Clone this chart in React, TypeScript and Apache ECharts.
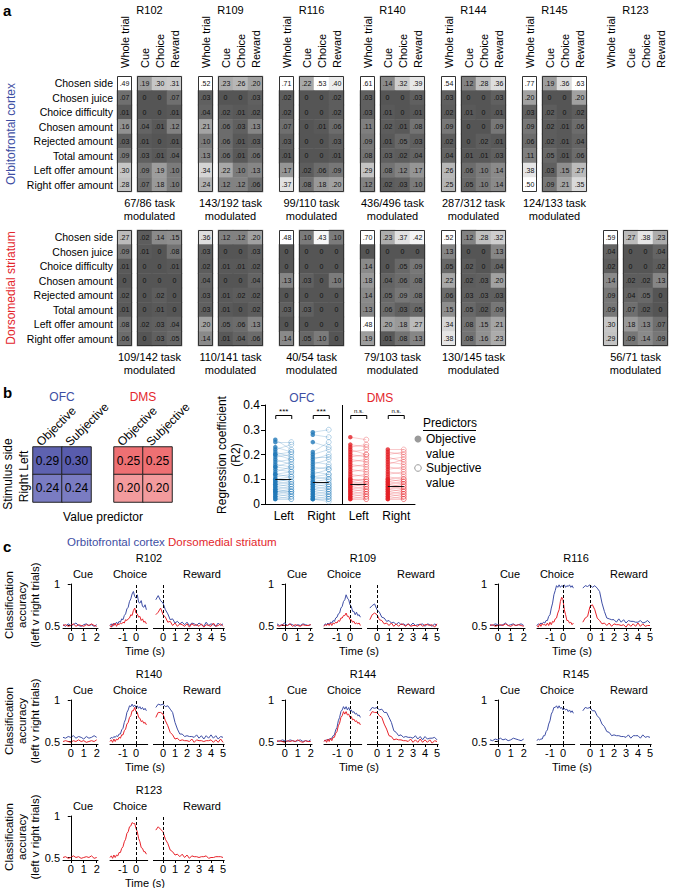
import React, { useEffect, useRef } from "react";
import * as echarts from "echarts";

const FONT = '"Liberation Sans", Arial, Helvetica, sans-serif';
const BLUE_TXT = "#3d4ea3";
const RED_TXT = "#e3262c";
const TRACE_BLUE = "#3f4fa6";
const TRACE_RED = "#e8232b";
const SC_BLUE = "#2178b8";
const SC_RED = "#e41f26";

// ---------------- Panel a data ----------------
const rowLabels = ["Chosen side", "Chosen juice", "Choice difficulty", "Chosen amount", "Rejected amount", "Total amount", "Left offer amount", "Right offer amount"];
const wholeTrialLabel = ["Whole trial"];
const epochLabels = ["Cue", "Choice", "Reward"];

// rows: [whole trial, cue, choice, reward]
const ofcR102 = [[0.49, 0.19, 0.30, 0.31], [0.07, 0, 0, 0.07], [0.01, 0, 0, 0.01], [0.16, 0.04, 0.01, 0.12], [0.03, 0.01, 0, 0.01], [0.09, 0.03, 0.01, 0.04], [0.30, 0.09, 0.19, 0.10], [0.28, 0.07, 0.18, 0.10]];
const ofcR109 = [[0.52, 0.23, 0.26, 0.20], [0.03, 0, 0, 0.03], [0.04, 0.02, 0.01, 0.02], [0.21, 0.06, 0.03, 0.13], [0.10, 0.06, 0.01, 0.03], [0.13, 0.06, 0.01, 0.06], [0.34, 0.22, 0.10, 0.13], [0.24, 0.12, 0.12, 0.06]];
const ofcR116 = [[0.71, 0.22, 0.53, 0.40], [0.02, 0, 0, 0.02], [0.02, 0, 0, 0.02], [0.07, 0, 0.01, 0.06], [0.03, 0, 0, 0.03], [0.01, 0, 0, 0.01], [0.17, 0.02, 0.06, 0.09], [0.37, 0.08, 0.18, 0.20]];
const ofcR140 = [[0.61, 0.14, 0.32, 0.39], [0.03, 0, 0, 0.03], [0.03, 0.01, 0, 0.01], [0.11, 0.02, 0.01, 0.08], [0.09, 0.01, 0.05, 0.03], [0.08, 0.03, 0.02, 0.04], [0.29, 0.08, 0.12, 0.17], [0.12, 0.02, 0.03, 0.10]];
const ofcR144 = [[0.54, 0.12, 0.28, 0.36], [0.03, 0, 0, 0.03], [0.02, 0.01, 0, 0.01], [0.09, 0, 0, 0.09], [0.02, 0, 0.02, 0.01], [0.04, 0.01, 0.01, 0.03], [0.26, 0.06, 0.10, 0.14], [0.25, 0.05, 0.10, 0.14]];
const ofcR145 = [[0.77, 0.19, 0.36, 0.63], [0.20, 0, 0, 0.20], [0.03, 0.02, 0, 0.02], [0.09, 0.02, 0.01, 0.06], [0.06, 0.02, 0.01, 0.04], [0.11, 0.05, 0.01, 0.06], [0.38, 0.03, 0.15, 0.27], [0.50, 0.09, 0.21, 0.35]];

const dmsR102 = [[0.27, 0.02, 0.14, 0.15], [0.09, 0.01, 0, 0.08], [0.01, 0, 0, 0.01], [0, 0, 0, 0], [0.02, 0, 0.02, 0], [0.01, 0, 0.01, 0], [0.08, 0.02, 0.03, 0.04], [0.06, 0, 0.03, 0.05]];
const dmsR109 = [[0.36, 0.12, 0.12, 0.20], [0.03, 0, 0, 0.03], [0.02, 0.01, 0.01, 0.02], [0.04, 0, 0, 0.04], [0.03, 0.01, 0.02, 0.02], [0.03, 0.01, 0, 0.02], [0.20, 0.05, 0.06, 0.13], [0.14, 0.01, 0.04, 0.06]];
const dmsR116 = [[0.48, 0.10, 0.43, 0.10], [0, 0, 0, 0], [0, 0, 0, 0], [0.13, 0.03, 0, 0.10], [0, 0, 0, 0], [0.03, 0.03, 0, 0], [0, 0, 0, 0], [0.14, 0.05, 0.10, 0]];
const dmsR140 = [[0.70, 0.23, 0.37, 0.42], [0, 0, 0, 0], [0.14, 0, 0.05, 0.09], [0.18, 0.04, 0.06, 0.08], [0.14, 0.05, 0.09, 0.08], [0.13, 0.06, 0.03, 0.05], [0.48, 0.20, 0.18, 0.27], [0.19, 0.01, 0.08, 0.13]];
const dmsR144 = [[0.52, 0.12, 0.28, 0.32], [0.13, 0, 0, 0.13], [0.05, 0.02, 0, 0.04], [0.22, 0.02, 0.03, 0.20], [0.06, 0.03, 0.03, 0.03], [0.15, 0.05, 0.02, 0.09], [0.34, 0.08, 0.15, 0.21], [0.38, 0.08, 0.16, 0.23]];
const dmsR123 = [[0.59, 0.27, 0.38, 0.23], [0.04, 0, 0, 0.04], [0.02, 0, 0, 0.02], [0.14, 0.02, 0.02, 0.13], [0.09, 0.04, 0.05, 0], [0.09, 0.07, 0.02, 0], [0.30, 0.18, 0.13, 0.07], [0.29, 0.09, 0.14, 0.09]];

const ofcRats = ["R102", "R109", "R116", "R140", "R144", "R145"];
const ofcTaskMod = ["67/86", "143/192", "99/110", "436/496", "287/312", "124/133"];
const dmsRats = ["R102", "R109", "R116", "R140", "R144", "R123"];
const dmsTaskMod = ["109/142", "110/141", "40/54", "79/103", "130/145", "56/71"];

// ---------------- Panel b data ----------------
const valuePredictors = ["Objective", "Subjective"];
const stimulusSides = ["Left", "Right"];
const ofcValueR2 = [[0.29, 0.30], [0.24, 0.24]];
const dmsValueR2 = [[0.25, 0.25], [0.20, 0.20]];

const ofcLeftObj = [0.26, 0.25, 0.23, 0.22, 0.21, 0.20, 0.20, 0.19, 0.18, 0.17, 0.16, 0.15, 0.15, 0.14, 0.13, 0.12, 0.12, 0.11, 0.10, 0.10, 0.09, 0.09, 0.08, 0.08, 0.07, 0.07, 0.06, 0.06, 0.05, 0.05, 0.05, 0.04, 0.04, 0.03, 0.03, 0.02, 0.02];
const ofcLeftSubj = [0.22, 0.25, 0.21, 0.24, 0.19, 0.21, 0.18, 0.20, 0.16, 0.18, 0.15, 0.17, 0.14, 0.13, 0.15, 0.11, 0.13, 0.12, 0.09, 0.11, 0.10, 0.08, 0.09, 0.07, 0.08, 0.06, 0.07, 0.05, 0.06, 0.04, 0.05, 0.05, 0.03, 0.04, 0.02, 0.03, 0.02];
const ofcRightObj = [0.29, 0.28, 0.25, 0.21, 0.20, 0.19, 0.18, 0.17, 0.16, 0.15, 0.14, 0.13, 0.12, 0.11, 0.11, 0.10, 0.09, 0.09, 0.08, 0.08, 0.07, 0.07, 0.06, 0.06, 0.05, 0.05, 0.04, 0.04, 0.03, 0.03, 0.02, 0.02, 0.02];
const ofcRightSubj = [0.30, 0.27, 0.23, 0.25, 0.22, 0.19, 0.20, 0.16, 0.18, 0.14, 0.15, 0.12, 0.14, 0.12, 0.10, 0.11, 0.10, 0.08, 0.09, 0.07, 0.08, 0.06, 0.07, 0.05, 0.06, 0.04, 0.05, 0.03, 0.04, 0.02, 0.03, 0.02, 0.01];
const dmsLeftObj = [0.27, 0.24, 0.23, 0.22, 0.21, 0.20, 0.19, 0.18, 0.17, 0.16, 0.15, 0.14, 0.13, 0.12, 0.11, 0.10, 0.10, 0.09, 0.09, 0.08, 0.08, 0.07, 0.07, 0.06, 0.06, 0.05, 0.05, 0.04, 0.04, 0.03, 0.03, 0.02, 0.02];
const dmsLeftSubj = [0.26, 0.23, 0.24, 0.20, 0.22, 0.19, 0.20, 0.17, 0.18, 0.15, 0.16, 0.13, 0.14, 0.11, 0.12, 0.10, 0.09, 0.10, 0.08, 0.09, 0.07, 0.08, 0.06, 0.07, 0.05, 0.06, 0.04, 0.05, 0.03, 0.04, 0.02, 0.03, 0.02];
const dmsRightObj = [0.22, 0.21, 0.20, 0.19, 0.18, 0.17, 0.16, 0.15, 0.14, 0.13, 0.12, 0.11, 0.10, 0.10, 0.09, 0.09, 0.08, 0.08, 0.07, 0.07, 0.06, 0.06, 0.05, 0.05, 0.04, 0.04, 0.03, 0.03, 0.02, 0.02];
const dmsRightSubj = [0.22, 0.20, 0.21, 0.17, 0.19, 0.16, 0.18, 0.14, 0.15, 0.12, 0.13, 0.10, 0.11, 0.09, 0.10, 0.08, 0.09, 0.07, 0.08, 0.06, 0.07, 0.05, 0.06, 0.04, 0.05, 0.03, 0.04, 0.02, 0.03, 0.02];
const groupMeans = [0.098, 0.088, 0.080, 0.070];
const groupSig = ["***", "***", "n.s.", "n.s."];
const sideCategories = ["Left", "Right", "Left", "Right"];

// ---------------- Panel c data (accuracy, %) ----------------
const cueT = [-0.6, -0.4, -0.2, 0, 0.2, 0.4, 0.6, 0.8, 1.0, 1.2, 1.4, 1.6, 1.8, 2.0];
const choiceT = [-2.0, -1.9, -1.8, -1.7, -1.6, -1.5, -1.4, -1.3, -1.2, -1.1, -1.0, -0.9, -0.8, -0.7, -0.6, -0.5, -0.4, -0.3, -0.2, -0.1, 0, 0.1, 0.2, 0.3, 0.4, 0.5, 0.6, 0.7, 0.8];
const rewardT = [-0.6, -0.4, -0.2, 0, 0.2, 0.4, 0.6, 0.8, 1.0, 1.2, 1.4, 1.6, 1.8, 2.0, 2.2, 2.4, 2.6, 2.8, 3.0, 3.2, 3.4, 3.6, 3.8, 4.0, 4.2, 4.4, 4.6, 4.8, 5.0];
const cueTicks = [0, 1, 2];
const choiceTicks = [-1, 0];
const rewardTicks = [0, 1, 2, 3, 4, 5];

const r102BlueCue = [51, 49, 52, 50, 51, 53, 50, 49, 51, 52, 50, 51, 49, 51];
const r102RedCue = [50, 51, 49, 50, 52, 49, 51, 50, 49, 51, 50, 52, 50, 49];
const r102BlueChoice = [50, 52, 49, 53, 51, 54, 52, 55, 54, 58, 57, 62, 64, 70, 72, 79, 82, 88, 91, 85, 83, 87, 78, 77, 80, 73, 72, 75, 69];
const r102RedChoice = [50, 48, 52, 50, 53, 49, 52, 51, 53, 52, 54, 53, 57, 56, 58, 59, 63, 62, 68, 71, 65, 64, 60, 61, 56, 58, 54, 55, 52];
const r102BlueReward = [81, 86, 80, 77, 69, 64, 57, 58, 53, 55, 52, 54, 51, 54, 50, 53, 52, 50, 53, 51, 49, 54, 50, 52, 51, 49, 53, 50, 52];
const r102RedReward = [63, 66, 71, 63, 60, 54, 55, 50, 53, 49, 52, 51, 49, 52, 48, 52, 50, 51, 49, 52, 48, 51, 50, 49, 53, 49, 50, 52, 49];

const r109BlueCue = [52, 50, 51, 53, 50, 52, 51, 49, 51, 50, 52, 51, 50, 51];
const r109RedCue = [50, 49, 51, 50, 50, 52, 49, 51, 50, 49, 51, 50, 50, 51];
const r109BlueChoice = [50, 52, 51, 53, 51, 54, 53, 56, 55, 59, 60, 64, 65, 71, 73, 79, 81, 87, 83, 81, 75, 73, 67, 67, 63, 66, 62, 63, 60];
const r109RedChoice = [49, 51, 50, 52, 50, 53, 50, 53, 52, 54, 53, 56, 55, 59, 59, 62, 62, 65, 61, 61, 57, 57, 54, 55, 52, 53, 52, 53, 50];
const r109BlueReward = [71, 74, 76, 69, 66, 60, 59, 55, 56, 53, 54, 51, 54, 51, 52, 50, 52, 50, 53, 50, 51, 51, 52, 49, 52, 51, 49, 52, 50];
const r109RedReward = [57, 63, 65, 63, 57, 56, 52, 53, 50, 53, 49, 52, 49, 52, 51, 49, 52, 49, 50, 50, 49, 52, 49, 51, 51, 50, 51, 48, 52];

const r116BlueCue = [51, 50, 52, 51, 50, 51, 53, 50, 51, 52, 50, 51, 52, 50];
const r116RedCue = [50, 51, 49, 50, 51, 50, 52, 50, 49, 51, 50, 51, 50, 49];
const r116BlueChoice = [50, 52, 51, 53, 52, 54, 53, 56, 56, 61, 63, 71, 77, 87, 92, 98, 96, 99, 96, 98, 97, 99, 96, 98, 97, 99, 96, 98, 95];
const r116RedChoice = [50, 48, 52, 49, 52, 51, 51, 50, 53, 50, 54, 51, 55, 54, 58, 59, 65, 69, 79, 84, 81, 69, 63, 56, 56, 53, 54, 51, 53];
const r116BlueReward = [95, 98, 97, 99, 96, 98, 95, 91, 77, 67, 59, 58, 57, 57, 54, 58, 54, 57, 53, 56, 55, 55, 54, 54, 56, 53, 54, 56, 53];
const r116RedReward = [54, 59, 61, 73, 75, 69, 59, 56, 52, 53, 50, 53, 49, 52, 51, 51, 50, 51, 48, 52, 49, 52, 49, 53, 49, 52, 49, 50, 50];

const r140BlueCue = [55, 54, 56, 55, 57, 54, 56, 55, 53, 56, 54, 55, 57, 55];
const r140RedCue = [50, 51, 50, 49, 51, 50, 52, 50, 51, 49, 50, 51, 50, 52];
const r140BlueChoice = [53, 55, 54, 56, 55, 57, 56, 59, 59, 64, 66, 73, 77, 85, 88, 93, 92, 95, 92, 94, 91, 93, 90, 92, 89, 91, 88, 90, 87];
const r140RedChoice = [50, 52, 49, 53, 50, 53, 52, 55, 54, 58, 58, 63, 65, 71, 73, 79, 81, 87, 87, 91, 86, 85, 79, 78, 74, 75, 72, 73, 70];
const r140BlueReward = [91, 95, 94, 95, 92, 93, 89, 85, 73, 65, 59, 59, 56, 57, 56, 56, 55, 58, 54, 57, 53, 57, 54, 58, 54, 57, 53, 56, 55];
const r140RedReward = [79, 85, 85, 83, 75, 69, 61, 58, 53, 54, 51, 52, 51, 51, 50, 53, 49, 52, 51, 51, 50, 51, 51, 52, 49, 52, 49, 53, 49];

const r144BlueCue = [51, 50, 52, 51, 50, 52, 51, 50, 51, 52, 50, 51, 50, 52];
const r144RedCue = [50, 51, 50, 49, 51, 50, 51, 50, 52, 50, 49, 51, 50, 50];
const r144BlueChoice = [51, 51, 52, 52, 53, 53, 54, 57, 58, 64, 67, 75, 79, 86, 88, 92, 89, 92, 88, 91, 87, 88, 85, 86, 83, 84, 81, 82, 79];
const r144RedChoice = [50, 52, 49, 53, 50, 54, 51, 55, 55, 60, 62, 69, 72, 79, 81, 86, 83, 86, 82, 83, 79, 80, 76, 77, 74, 75, 72, 73, 70];
const r144BlueReward = [87, 91, 90, 91, 88, 89, 85, 85, 79, 73, 63, 61, 57, 58, 55, 56, 55, 55, 54, 57, 53, 56, 52, 56, 53, 54, 54, 55, 52];
const r144RedReward = [81, 86, 85, 85, 81, 79, 71, 65, 57, 56, 52, 53, 52, 52, 51, 51, 50, 53, 49, 52, 49, 53, 49, 52, 49, 52, 48, 51, 50];

const r145BlueCue = [52, 51, 53, 52, 54, 52, 53, 51, 52, 54, 53, 52, 51, 53];
const r145BlueChoice = [51, 53, 52, 53, 53, 57, 57, 62, 64, 71, 75, 83, 86, 91, 91, 93, 90, 93, 90, 91, 88, 90, 88, 89, 86, 88, 85, 87, 84];
const r145BlueReward = [87, 91, 90, 91, 87, 87, 81, 78, 71, 68, 62, 61, 57, 58, 57, 57, 56, 56, 55, 58, 54, 57, 57, 57, 54, 58, 55, 56, 55];

const r123RedCue = [50, 51, 49, 50, 52, 50, 51, 49, 50, 51, 50, 52, 49, 50];
const r123RedChoice = [50, 52, 49, 53, 50, 53, 52, 56, 56, 61, 63, 69, 72, 79, 81, 87, 88, 92, 91, 91, 85, 81, 73, 69, 62, 61, 57, 57, 54];
const r123RedReward = [83, 87, 84, 81, 72, 67, 59, 57, 53, 54, 51, 54, 50, 53, 49, 52, 51, 51, 50, 51, 51, 52, 49, 50, 50, 51, 51, 51, 50];

// ---------------- layout constants ----------------
const SLOT_X = [117, 198, 279, 360, 441, 522, 603];
const OFC_TOP = 76;
const DMS_TOP = 230;
const HM_H = 116;
const HEADER_Y = 68;
const COL_DX = [0, 214, 427];
const ROW_DY = [0, 116, 232];

function fmtCell(v: number) {
  if (v === 0) return "0";
  return v.toFixed(2).replace(/^0/, "");
}

function buildOption() {
  const grid: any[] = [];
  const xAxis: any[] = [];
  const yAxis: any[] = [];
  const series: any[] = [];
  const graphic: any[] = [];
  const grayIdx: number[] = [];

  const txt = (text: string, x: number, y: number, o: any = {}) => ({
    type: "text",
    x,
    y,
    rotation: o.rotation || 0,
    silent: true,
    z: 50,
    style: {
      text,
      fill: o.fill || "#000",
      fontSize: o.size || 11,
      fontFamily: FONT,
      fontWeight: o.weight || "normal",
      align: o.align || "center",
      verticalAlign: o.va || "middle",
      lineHeight: o.lh || undefined,
    },
  });
  const frame = (x: number, y: number, w: number, h: number) => ({
    type: "rect",
    silent: true,
    z: 60,
    shape: { x: x + 0.5, y: y + 0.5, width: w - 1, height: h - 1 },
    style: { fill: "none", stroke: "#333", lineWidth: 1 },
  });
  const hiddenAxisBase = { axisLine: { show: false }, axisTick: { show: false }, splitLine: { show: false } };

  const cellLabel = {
    show: true,
    fontSize: 7,
    color: "#111",
    fontFamily: FONT,
    formatter: (p: any) => fmtCell(p.value[2]),
  };

  // ---------- panel a ----------
  const addRat = (data: number[][], slot: number, top: number, showRows: boolean, showHeaders: boolean, rat: string | null, taskMod: string) => {
    const x0 = SLOT_X[slot];
    grid.push({ left: x0, top, width: 15, height: HM_H });
    const gW = grid.length - 1;
    xAxis.push({ gridIndex: gW, type: "category", data: wholeTrialLabel, position: "top", ...hiddenAxisBase, axisLabel: { show: false } });
    yAxis.push({
      gridIndex: gW, type: "category", data: rowLabels, inverse: true, ...hiddenAxisBase,
      axisLabel: { show: showRows, interval: 0, margin: 4, fontSize: 10.5, color: "#000", fontFamily: FONT },
    });
    series.push({
      type: "heatmap", xAxisIndex: xAxis.length - 1, yAxisIndex: yAxis.length - 1,
      data: data.map((r, i) => [0, i, r[0]]), label: cellLabel, emphasis: { disabled: true },
    });
    grayIdx.push(series.length - 1);
    grid.push({ left: x0 + 20, top, width: 45, height: HM_H });
    const gE = grid.length - 1;
    xAxis.push({ gridIndex: gE, type: "category", data: epochLabels, position: "top", ...hiddenAxisBase, axisLabel: { show: false } });
    yAxis.push({ gridIndex: gE, type: "category", data: rowLabels, inverse: true, ...hiddenAxisBase, axisLabel: { show: false } });
    const d: any[] = [];
    data.forEach((r, i) => {
      for (let j = 0; j < 3; j++) d.push([j, i, r[j + 1]]);
    });
    series.push({ type: "heatmap", xAxisIndex: xAxis.length - 1, yAxisIndex: yAxis.length - 1, data: d, label: cellLabel, emphasis: { disabled: true } });
    grayIdx.push(series.length - 1);
    graphic.push(frame(x0, top, 15, HM_H));
    graphic.push(frame(x0 + 20, top, 45, HM_H));
    if (showHeaders) {
      graphic.push(txt(wholeTrialLabel[0], x0 + 7.5, HEADER_Y, { rotation: Math.PI / 2, align: "left", size: 11 }));
      epochLabels.forEach((l, j) => graphic.push(txt(l, x0 + 27.5 + j * 15, HEADER_Y, { rotation: Math.PI / 2, align: "left", size: 11 })));
    }
    if (rat) graphic.push(txt(rat, x0 + 32.5, 10, { size: 11 }));
    graphic.push(txt(taskMod + " task", x0 + 32.5, top + HM_H + 11, { size: 11 }));
    graphic.push(txt("modulated", x0 + 32.5, top + HM_H + 24, { size: 11 }));
  };

  const ofcData = [ofcR102, ofcR109, ofcR116, ofcR140, ofcR144, ofcR145];
  ofcData.forEach((d, i) => addRat(d, i, OFC_TOP, i === 0, true, ofcRats[i], ofcTaskMod[i]));
  const dmsData = [dmsR102, dmsR109, dmsR116, dmsR140, dmsR144, dmsR123];
  const dmsSlots = [0, 1, 2, 3, 4, 6];
  dmsData.forEach((d, i) => {
    const isR123 = dmsRats[i] === "R123";
    addRat(d, dmsSlots[i], DMS_TOP, i === 0, isR123, isR123 ? dmsRats[i] : null, dmsTaskMod[i]);
  });

  graphic.push(txt("a", 3, 10, { align: "left", weight: "bold", size: 15 }));
  graphic.push(txt("Orbitofrontal cortex", 11, OFC_TOP + HM_H / 2, { rotation: Math.PI / 2, fill: BLUE_TXT, size: 12 }));
  graphic.push(txt("Dorsomedial striatum", 11, DMS_TOP + HM_H / 2, { rotation: Math.PI / 2, fill: RED_TXT, size: 12 }));

  // ---------- panel b: 2x2 ----------
  const vmIdx: number[][] = [[], []];
  const add2x2 = (vals: number[][], left: number, showY: boolean, k: number) => {
    grid.push({ left, top: 447, width: 58, height: 55 });
    const g = grid.length - 1;
    xAxis.push({ gridIndex: g, type: "category", data: valuePredictors, position: "top", ...hiddenAxisBase, axisLabel: { show: false } });
    yAxis.push({
      gridIndex: g, type: "category", data: stimulusSides, inverse: true, ...hiddenAxisBase,
      axisLabel: { show: showY, interval: 0, rotate: 90, margin: 3, fontSize: 12, color: "#000", fontFamily: FONT, align: "center" },
    });
    const d: any[] = [];
    vals.forEach((r, i) => r.forEach((v, j) => d.push([j, i, v])));
    series.push({
      type: "heatmap", xAxisIndex: xAxis.length - 1, yAxisIndex: yAxis.length - 1, data: d,
      itemStyle: { borderColor: "#222", borderWidth: 1 },
      label: { show: true, fontSize: 12, color: "#000", fontFamily: FONT, formatter: (p: any) => p.value[2].toFixed(2) },
      emphasis: { disabled: true },
    });
    vmIdx[k].push(series.length - 1);
    valuePredictors.forEach((l, j) =>
      graphic.push(txt(l, left + 14.5 + j * 29 - 9, 444, { rotation: Math.PI / 4, align: "left", size: 12 }))
    );
  };
  add2x2(ofcValueR2, 33, true, 0);
  add2x2(dmsValueR2, 114, false, 1);
  graphic.push(txt("b", 3, 392, { align: "left", weight: "bold", size: 15 }));
  graphic.push(txt("OFC", 62, 397, { fill: BLUE_TXT, size: 12 }));
  graphic.push(txt("DMS", 143, 397, { fill: RED_TXT, size: 12 }));
  graphic.push(txt("Stimulus side", 8, 474, { rotation: Math.PI / 2, size: 12 }));
  graphic.push(txt("Value predictor", 103, 517, { size: 12 }));

  // ---------- panel b: regression scatter ----------
  grid.push({ left: 265, top: 405, width: 150, height: 99 });
  const gs = grid.length - 1;
  xAxis.push({ gridIndex: gs, type: "value", min: 0, max: 8, show: false });
  const xsVal = xAxis.length - 1;
  xAxis.push({
    gridIndex: gs, type: "category", data: sideCategories, position: "bottom",
    axisLine: { show: true, lineStyle: { color: "#000", width: 1 } }, axisTick: { show: false }, splitLine: { show: false },
    axisLabel: { interval: 0, margin: 6, fontSize: 12, color: "#000", fontFamily: FONT },
  });
  yAxis.push({
    gridIndex: gs, type: "value", min: 0, max: 0.4, interval: 0.1,
    axisLine: { show: true, lineStyle: { color: "#000", width: 1 } },
    axisTick: { show: true, length: 4, lineStyle: { color: "#000" } },
    splitLine: { show: false },
    axisLabel: { fontSize: 12, color: "#000", fontFamily: FONT, margin: 5, formatter: (v: number) => (v === 0 ? "0" : String(+v.toFixed(1))) },
  });
  const ysIdx = yAxis.length - 1;
  const groups = [
    { obj: ofcLeftObj, subj: ofcLeftSubj, c: 1, col: SC_BLUE },
    { obj: ofcRightObj, subj: ofcRightSubj, c: 3, col: SC_BLUE },
    { obj: dmsLeftObj, subj: dmsLeftSubj, c: 5, col: SC_RED },
    { obj: dmsRightObj, subj: dmsRightSubj, c: 7, col: SC_RED },
  ];
  groups.forEach((g, gi) => {
    const xo = g.c - 0.45;
    const xs = g.c + 0.4;
    series.push({
      type: "lines", coordinateSystem: "cartesian2d", xAxisIndex: xsVal, yAxisIndex: ysIdx, silent: true,
      lineStyle: { color: g.col, width: 0.6, opacity: 0.4 },
      data: g.obj.map((v, i) => ({ coords: [[xo, v], [xs, g.subj[i]]] })),
    });
    series.push({
      type: "scatter", xAxisIndex: xsVal, yAxisIndex: ysIdx, symbolSize: 4.5, silent: true,
      itemStyle: { color: g.col },
      data: g.obj.map((v) => [xo, v]),
      ...(gi === 0
        ? { markLine: { silent: true, symbol: "none", label: { show: false }, lineStyle: { color: "#000", width: 1, type: "solid" }, data: [{ xAxis: 4.1 }] } }
        : {}),
    });
    series.push({
      type: "scatter", xAxisIndex: xsVal, yAxisIndex: ysIdx, symbolSize: 5, silent: true,
      itemStyle: { color: "rgba(255,255,255,0)", borderColor: g.col, borderWidth: 0.7, opacity: 0.45 },
      data: g.subj.map((v) => [xs, v]),
    });
    series.push({
      type: "lines", coordinateSystem: "cartesian2d", xAxisIndex: xsVal, yAxisIndex: ysIdx, silent: true, z: 5,
      lineStyle: { color: "#111", width: 1.2, opacity: 1 },
      data: [{ coords: [[xo, groupMeans[gi]], [xs, groupMeans[gi]]] }],
    });
    const px = 265 + g.c * 18.75;
    graphic.push({ type: "polyline", silent: true, shape: { points: [[px - 8, 419], [px - 8, 415.5], [px + 8, 415.5], [px + 8, 419]] }, style: { stroke: "#000", lineWidth: 1, fill: "none" } });
    graphic.push(txt(groupSig[gi], px, 411, { size: groupSig[gi] === "***" ? 8 : 6 }));
  });
  graphic.push(txt("OFC", 302, 398, { fill: BLUE_TXT, size: 12 }));
  graphic.push(txt("DMS", 380, 398, { fill: RED_TXT, size: 12 }));
  graphic.push(txt("Regression coefficient\n(R2)", 229, 455, { rotation: Math.PI / 2, size: 12, lh: 14 }));
  graphic.push(txt("Predictors", 423, 423, { align: "left", size: 12 }));
  graphic.push({ type: "line", silent: true, shape: { x1: 423, y1: 430.5, x2: 476, y2: 430.5 }, style: { stroke: "#000", lineWidth: 1 } });
  graphic.push({ type: "circle", silent: true, shape: { cx: 418, cy: 439, r: 3.5 }, style: { fill: "#9a9a9a", stroke: "none" } });
  graphic.push(txt("Objective", 426, 439, { align: "left", size: 12 }));
  graphic.push(txt("value", 426, 454, { align: "left", size: 12 }));
  graphic.push({ type: "circle", silent: true, shape: { cx: 418, cy: 468, r: 3.3 }, style: { fill: "none", stroke: "#9a9a9a", lineWidth: 1 } });
  graphic.push(txt("Subjective", 426, 468, { align: "left", size: 12 }));
  graphic.push(txt("value", 426, 483, { align: "left", size: 12 }));

  // ---------- panel c ----------
  graphic.push(txt("c", 3, 546, { align: "left", weight: "bold", size: 15 }));
  graphic.push(txt("Orbitofrontal cortex", 67, 542, { align: "left", fill: BLUE_TXT, size: 11.5 }));
  graphic.push(txt("Dorsomedial striatum", 168, 542, { align: "left", fill: RED_TXT, size: 11.5 }));

  const plots = [
    { title: "R102", col: 0, row: 0, blue: [r102BlueCue, r102BlueChoice, r102BlueReward], red: [r102RedCue, r102RedChoice, r102RedReward] },
    { title: "R109", col: 1, row: 0, blue: [r109BlueCue, r109BlueChoice, r109BlueReward], red: [r109RedCue, r109RedChoice, r109RedReward] },
    { title: "R116", col: 2, row: 0, blue: [r116BlueCue, r116BlueChoice, r116BlueReward], red: [r116RedCue, r116RedChoice, r116RedReward] },
    { title: "R140", col: 0, row: 1, blue: [r140BlueCue, r140BlueChoice, r140BlueReward], red: [r140RedCue, r140RedChoice, r140RedReward] },
    { title: "R144", col: 1, row: 1, blue: [r144BlueCue, r144BlueChoice, r144BlueReward], red: [r144RedCue, r144RedChoice, r144RedReward] },
    { title: "R145", col: 2, row: 1, blue: [r145BlueCue, r145BlueChoice, r145BlueReward], red: null },
    { title: "R123", col: 0, row: 2, blue: null, red: [r123RedCue, r123RedChoice, r123RedReward] },
  ];
  const segs = [
    { left: 63, width: 35, min: -0.6, max: 2.1, ticks: cueTicks, t: cueT },
    { left: 110, width: 37.7, min: -2, max: 0.9, ticks: choiceTicks, t: choiceT },
    { left: 153.4, width: 70.8, min: -0.8, max: 5.1, ticks: rewardTicks, t: rewardT },
  ];
  const segNames = [["Cue", 83], ["Choice", 130], ["Reward", 202]];
  plots.forEach((p) => {
    const dx = COL_DX[p.col];
    const dy = ROW_DY[p.row];
    graphic.push(txt(p.title, 149 + dx, 558 + dy, { size: 11 }));
    segNames.forEach(([n, x]) => graphic.push(txt(n as string, (x as number) + dx, 574 + dy, { size: 11 })));
    graphic.push(txt("Time (s)", 145 + dx, 651 + dy, { size: 11 }));
    if (p.col === 0) {
      graphic.push(txt("Classification\naccuracy\n(left v right trials)", 22, 605 + dy, { rotation: Math.PI / 2, size: 11.5, lh: 13 }));
    }
    segs.forEach((s, si) => {
      grid.push({ left: s.left + dx, top: 584 + dy, width: s.width, height: 44 });
      const g = grid.length - 1;
      xAxis.push({
        gridIndex: g, type: "value", min: s.min, max: s.max,
        axisLine: { show: true, onZero: false, lineStyle: { color: "#000", width: 1 } },
        axisTick: { show: true, length: 3, customValues: s.ticks, lineStyle: { color: "#000" } },
        axisLabel: { customValues: s.ticks, fontSize: 11, margin: 3, color: "#000", fontFamily: FONT, formatter: (v: number) => String(v) },
        splitLine: { show: false },
      });
      const xi = xAxis.length - 1;
      yAxis.push({
        gridIndex: g, type: "value", min: 0.47, max: 1.0, show: si === 0,
        axisLine: { show: true, lineStyle: { color: "#000", width: 1 } },
        axisTick: { show: true, length: 3, customValues: [0.5, 1], lineStyle: { color: "#000" } },
        axisLabel: { customValues: [0.5, 1], fontSize: 11, margin: 3, color: "#000", fontFamily: FONT, formatter: (v: number) => (v === 1 ? "1" : "0.5") },
        splitLine: { show: false },
      });
      const yi = yAxis.length - 1;
      let first = true;
      const addTrace = (vals: number[], color: string) => {
        series.push({
          type: "line", xAxisIndex: xi, yAxisIndex: yi, showSymbol: false, silent: true, clip: false,
          lineStyle: { color, width: 1 },
          data: s.t.map((t, i) => [t, vals[i] / 100]),
          ...(first
            ? { markLine: { silent: true, symbol: "none", label: { show: false }, lineStyle: { color: "#000", width: 1, type: [3, 2] }, data: [{ xAxis: 0 }] } }
            : {}),
        });
        first = false;
      };
      if (p.blue) addTrace(p.blue[si], TRACE_BLUE);
      if (p.red) addTrace(p.red[si], TRACE_RED);
    });
  });

  return {
    animation: false,
    backgroundColor: "#fff",
    textStyle: { fontFamily: FONT },
    grid,
    xAxis,
    yAxis,
    visualMap: [
      { type: "continuous", show: false, min: 0, max: 0.45, dimension: 2, seriesIndex: grayIdx, inRange: { color: ["#555555", "#ffffff"] } },
      { type: "continuous", show: false, min: 0.22, max: 0.31, dimension: 2, seriesIndex: vmIdx[0], inRange: { color: ["#8587c9", "#5357a9"] } },
      { type: "continuous", show: false, min: 0.18, max: 0.27, dimension: 2, seriesIndex: vmIdx[1], inRange: { color: ["#f5adad", "#ec5e63"] } },
    ],
    series,
    graphic,
  };
}

export default function App() {
  const ref = useRef<HTMLDivElement>(null);
  useEffect(() => {
    document.body.style.margin = "0";
    const chart = echarts.init(ref.current as HTMLDivElement, null, { renderer: "svg" });
    chart.setOption(buildOption() as any);
    return () => chart.dispose();
  }, []);
  return <div ref={ref} style={{ width: 677, height: 888, background: "#fff" }} />;
}
